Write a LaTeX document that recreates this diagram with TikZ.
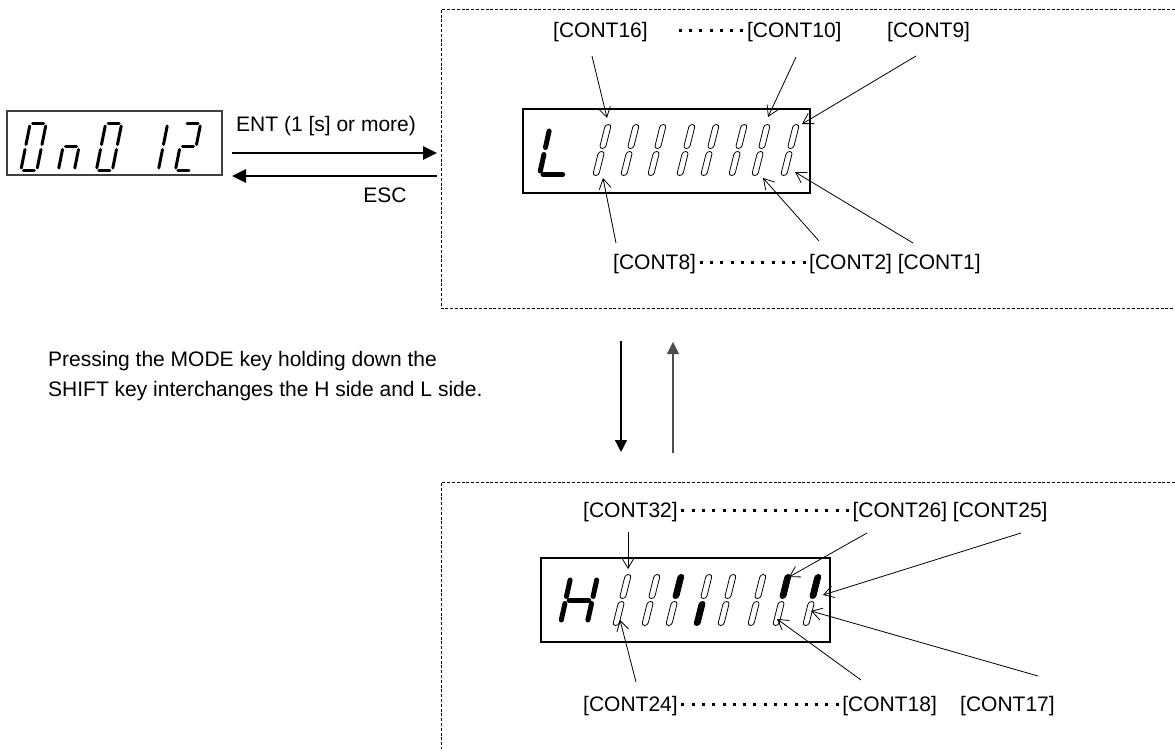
\documentclass[tikz,border=0pt]{standalone}
\usepackage{fontspec}
\setmainfont{Liberation Sans}
\usetikzlibrary{arrows.meta}

% square leader dots between contact labels
\newcommand{\leaderdots}[1]{\foreach \k in {1,...,#1}{\makebox[0.49em]{\rule[0.28em]{0.14em}{0.14em}}}}

% seven-segment glyph: position, size style, list of segments
\newcommand{\segglyph}[3]{%
  \begin{scope}[shift={#1},#2]
    \foreach \s in {#3}{\pic[transform shape] {seg \s};}
  \end{scope}}

\tikzset{
  seven/.style={line cap=round,line join=round},
  small glyph/.style={seven,line width=3pt,xslant=0.2,
    /utils/exec={\def\gw{8}\def\gh{23.5}\def\gg{2.5}}},
  big glyph/.style={seven,line width=5pt,xslant=0.22,
    /utils/exec={\def\gw{13.3}\def\gh{23.5}\def\gg{3.5}}},
  pics/seg a/.style={code={\draw (-\gw+\gg,-\gh) -- (\gw-\gg,-\gh);}},
  pics/seg b/.style={code={\draw (\gw,-\gh+\gg) -- (\gw,-\gg);}},
  pics/seg c/.style={code={\draw (\gw,\gg) -- (\gw,\gh-\gg);}},
  pics/seg d/.style={code={\draw (-\gw+\gg,\gh) -- (\gw-\gg,\gh);}},
  pics/seg e/.style={code={\draw (-\gw,\gg) -- (-\gw,\gh-\gg);}},
  pics/seg f/.style={code={\draw (-\gw,-\gh+\gg) -- (-\gw,-\gg);}},
  pics/seg g/.style={code={\draw (-\gw+\gg,0) -- (\gw-\gg,0);}}
}

\begin{document}
\begin{tikzpicture}[x=1pt,y=-1pt,
  font=\fontsize{21pt}{30pt}\selectfont,
  lbl/.style={anchor=west,inner sep=0pt},
  lcd/.style={draw=black,line width=1.8pt,inner sep=0pt},
  panel/.style={draw=black!75,line width=1.2pt,inner sep=0pt},
  frame/.style={draw=black,line width=0.8pt,dash pattern=on 3pt off 1.8pt},
  pointer/.style={-{Straight Barb[length=10pt,width=12pt]},line width=0.8pt},
  keyarrow/.style={-{Triangle[length=14pt,width=13pt]},line width=2.6pt},
  modearrow/.style={-{Triangle[length=12pt,width=12pt]},line width=1.3pt},
  lit/.style={draw=black,line width=0.8pt,fill=black,rounded corners=2.9pt},
  unlit/.style={draw=black,line width=0.8pt,fill=white,rounded corners=2.9pt}
]
\path[use as bounding box,fill=white] (0,0) rectangle (1175,749);

% ==========  dashed frames (open to the right)  ==========
\draw[frame] (1175,9.5) -- (441,9.5) -- (441,308) -- (1175,308);
\draw[frame] (1175,482.5) -- (441,482.5) -- (441,749);

% ==========  parameter display "On012"  ==========
\node[panel,minimum width=215pt,minimum height=64pt] (pnl) at (114.5,143) {};
\segglyph{(33.5,147)}{small glyph}{a,b,c,d,e,f}
\segglyph{(71,147)}{small glyph}{c,e,g}
\segglyph{(109,147)}{small glyph}{a,b,c,d,e,f}
\segglyph{(155,147)}{small glyph}{b,c}
\segglyph{(188,147)}{small glyph}{a,b,g,e,d}

\coordinate (entA) at (232,153);
\coordinate (entB) at (437,153);
\coordinate (escA) at (437,176);
\coordinate (escB) at (232,176);
\draw[keyarrow] (entA) -- (entB);
\draw[keyarrow] (escA) -- (escB);
\node[lbl] (ent) at (236,126) {ENT (1 [s] or more)};
\node[inner sep=0pt] (esc) at (385,195) {ESC};

% ==========  L side display (CONT1..CONT16)  ==========
\node[lcd,minimum width=287pt,minimum height=84pt] (lcdL) at (666.5,151) {};
\segglyph{(558,151)}{big glyph}{d,e,f}
\foreach \x in {602,630,657,686,710,738,761,790}{
  \begin{scope}[shift={(\x,150)},xslant=0.25]
    \draw[unlit] (-3,-25.5) rectangle (3,-1.5);
    \draw[unlit] (-3,1.5) rectangle (3,25.5);
  \end{scope}
}

\node[lbl] (cA) at (553,32) {[CONT16]\hspace{1.3em}\leaderdots{7}[CONT10]};
\node[lbl] (cB) at (887,32) {[CONT9]};
\node[lbl] (cC) at (613,264) {[CONT8]\leaderdots{11}[CONT2] [CONT1]};

\foreach \n/\sx/\sy/\tx/\ty in {16/592/56/607/118, 10/796/57/768/117,
    9/916/56/802/124, 8/616/243/603/178, 2/819/241/763/178, 1/913/243/795/172}{
  \coordinate (s\n) at (\sx,\sy);
  \coordinate (t\n) at (\tx,\ty);
  \draw[pointer] (s\n) -- (t\n);
}

% ==========  MODE + SHIFT switching  ==========
\coordinate (dnA) at (621,341);
\coordinate (dnB) at (621,452);
\coordinate (upA) at (673,453);
\coordinate (upB) at (673,342);
\draw[modearrow] (dnA) -- (dnB);
\draw[modearrow,draw=black!70] (upA) -- (upB);
\node[lbl,align=left] (note) at (48,376)
  {Pressing the MODE key holding down the\\SHIFT key interchanges the H side and L side.};

% ==========  H side display (CONT17..CONT32)  ==========
\node[lcd,minimum width=289pt,minimum height=84pt] (lcdH) at (685.5,600) {};
\segglyph{(579,600)}{big glyph}{b,c,e,f,g}
\foreach \x/\u/\l in {622/unlit/unlit, 651/unlit/unlit, 675/lit/unlit,
    703/unlit/lit, 727/unlit/unlit, 757/unlit/unlit, 782/lit/unlit, 812/lit/unlit}{
  \begin{scope}[shift={(\x,600)},xslant=0.25]
    \draw[\u] (-3,-25.5) rectangle (3,-1.5);
    \draw[\l] (-3,1.5) rectangle (3,25.5);
  \end{scope}
}

\node[lbl] (cD) at (583,512) {[CONT32]\leaderdots{17}[CONT26] [CONT25]};
\node[lbl] (cE) at (583,706) {[CONT24]\leaderdots{16}[CONT18]};
\node[lbl] (cF) at (960,706) {[CONT17]};

\foreach \n/\sx/\sy/\tx/\ty in {32/628/532/628/569, 26/867/533/789/577,
    25/1021/533/823/595, 24/636/682/620/620, 18/861/680/777/619, 17/1038/676/811/611}{
  \coordinate (s\n) at (\sx,\sy);
  \coordinate (t\n) at (\tx,\ty);
  \draw[pointer] (s\n) -- (t\n);
}

\end{tikzpicture}
\end{document}
